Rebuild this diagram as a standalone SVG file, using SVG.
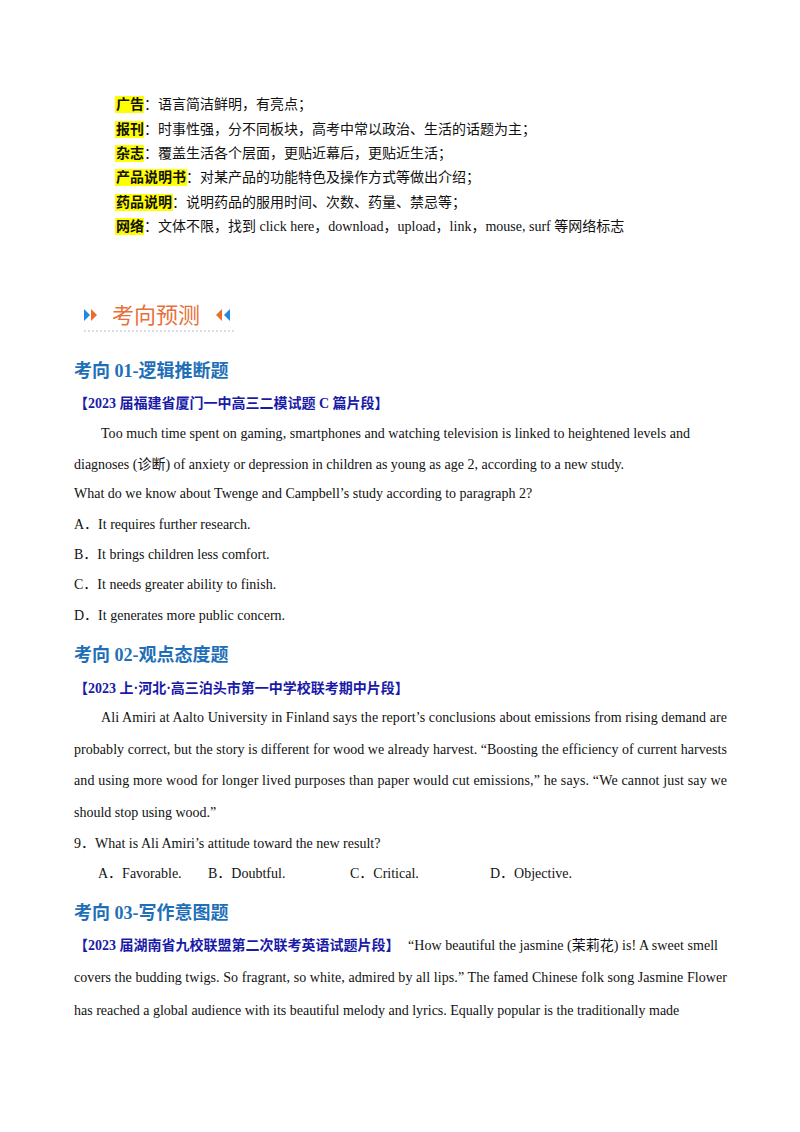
<svg xmlns="http://www.w3.org/2000/svg" width="800" height="1132" viewBox="0 0 800 1132">
<style>
.t{font-family:"Liberation Serif","Noto Sans CJK SC",serif;font-size:14px;fill:#111}
.k{font-family:"Liberation Serif","Noto Sans CJK SC",serif;font-size:14px;font-weight:bold;fill:#111}
.h{font-family:"Liberation Serif","Noto Sans CJK SC",serif;font-size:18px;font-weight:bold;fill:#1f6fb8}
.s{font-family:"Liberation Serif","Noto Sans CJK SC",serif;font-size:14px;font-weight:bold;fill:#1a1aa8}
.hl{fill:#ffff00}
</style>
<rect width="800" height="1132" fill="#fff"/>
<rect class="hl" x="115" y="96" width="29" height="17"/>
<rect class="hl" x="115" y="121" width="29" height="17"/>
<rect class="hl" x="115" y="145" width="29" height="17"/>
<rect class="hl" x="115" y="169" width="72" height="17"/>
<rect class="hl" x="115" y="194" width="58" height="17"/>
<rect class="hl" x="115" y="218" width="29" height="17"/>
<text x="116" y="109" class="t"><tspan class="k">广告</tspan>：语言简洁鲜明，有亮点；</text>
<text x="116" y="134" class="t"><tspan class="k">报刊</tspan>：时事性强，分不同板块，高考中常以政治、生活的话题为主；</text>
<text x="116" y="158" class="t"><tspan class="k">杂志</tspan>：覆盖生活各个层面，更贴近幕后，更贴近生活；</text>
<text x="116" y="182" class="t"><tspan class="k">产品说明书</tspan>：对某产品的功能特色及操作方式等做出介绍；</text>
<text x="116" y="207" class="t"><tspan class="k">药品说明</tspan>：说明药品的服用时间、次数、药量、禁忌等；</text>
<text x="116" y="231" class="t"><tspan class="k">网络</tspan>：文体不限，找到 click here，download，upload，link，mouse, surf 等网络标志</text>
<g>
<polygon points="84,309 84,321 90,315" fill="#1e88e5"/>
<polygon points="91,309 91,321 97,315" fill="#f06a2a"/>
<text x="112" y="323" font-family="Noto Sans CJK SC,sans-serif" font-size="22" fill="#e8703a">考向预测</text>
<polygon points="222,309 222,321 216,315" fill="#f06a2a"/>
<polygon points="230,309 230,321 224,315" fill="#1e88e5"/>
<line x1="84" y1="331" x2="236" y2="331" stroke="#bbb" stroke-dasharray="2,2"/>
</g>
<text x="74" y="377" class="h">考向 01-逻辑推断题</text>
<text x="74" y="408" class="s">【2023 届福建省厦门一中高三二模试题 C 篇片段】</text>
<text x="101" y="438" class="t" textLength="589">Too much time spent on gaming, smartphones and watching television is linked to heightened levels and</text>
<text x="74" y="469" class="t">diagnoses (诊断) of anxiety or depression in children as young as age 2, according to a new study.</text>
<text x="74" y="498" class="t">What do we know about Twenge and Campbell’s study according to paragraph 2?</text>
<text x="74" y="529" class="t">A．It requires further research.</text>
<text x="74" y="559" class="t">B．It brings children less comfort.</text>
<text x="74" y="589" class="t">C．It needs greater ability to finish.</text>
<text x="74" y="620" class="t">D．It generates more public concern.</text>
<text x="74" y="661" class="h">考向 02-观点态度题</text>
<text x="74" y="693" class="s">【2023 上·河北·高三泊头市第一中学校联考期中片段】</text>
<text x="101" y="722" class="t" textLength="626">Ali Amiri at Aalto University in Finland says the report’s conclusions about emissions from rising demand are</text>
<text x="74" y="754" class="t" textLength="653">probably correct, but the story is different for wood we already harvest. “Boosting the efficiency of current harvests</text>
<text x="74" y="785" class="t" textLength="653">and using more wood for longer lived purposes than paper would cut emissions,” he says. “We cannot just say we</text>
<text x="74" y="817" class="t">should stop using wood.”</text>
<text x="74" y="848" class="t">9．What is Ali Amiri’s attitude toward the new result?</text>
<text x="98" y="878" class="t">A．Favorable.</text>
<text x="208" y="878" class="t">B．Doubtful.</text>
<text x="350" y="878" class="t">C．Critical.</text>
<text x="490" y="878" class="t">D．Objective.</text>
<text x="74" y="919" class="h">考向 03-写作意图题</text>
<text x="74" y="950" class="s">【2023 届湖南省九校联盟第二次联考英语试题片段】</text>
<text x="408" y="950" class="t" textLength="310">“How beautiful the jasmine (茉莉花) is! A sweet smell</text>
<text x="74" y="982" class="t" textLength="653">covers the budding twigs. So fragrant, so white, admired by all lips.” The famed Chinese folk song Jasmine Flower</text>
<text x="74" y="1015" class="t">has reached a global audience with its beautiful melody and lyrics. Equally popular is the traditionally made</text>
</svg>
